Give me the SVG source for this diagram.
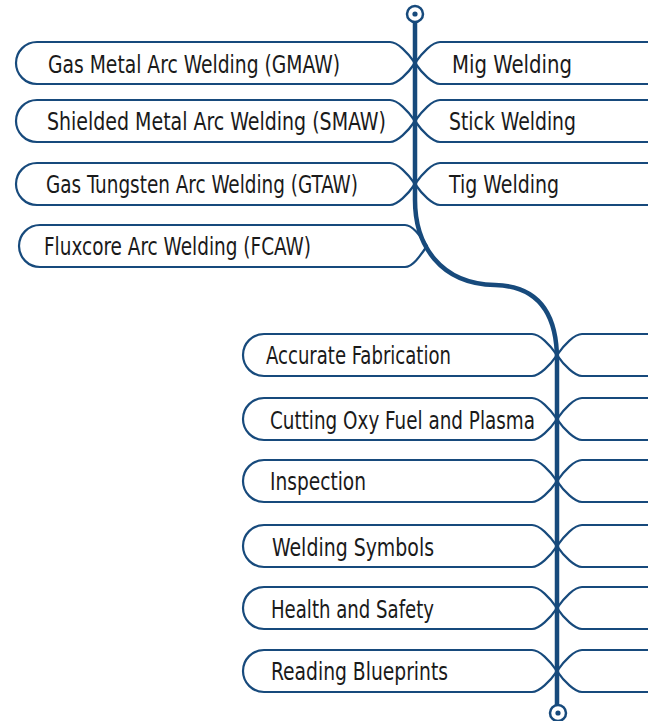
<svg xmlns="http://www.w3.org/2000/svg" width="648" height="721" viewBox="0 0 648 721">
<style>
.n{fill:#fff;stroke:#174a7c;stroke-width:2.2;stroke-linejoin:round}
.t{font-family:"Liberation Sans Narrow","DejaVu Sans Condensed","Liberation Sans",sans-serif;font-size:24.5px;fill:#1a1a1a}
.m{fill:none;stroke:#174a7c;stroke-width:4.5}
</style>
<rect width="648" height="721" fill="#fff"/>
<g id="left1"><path class="n" d="M37,42 H390 C397.5,42 407.75,52.5 415,63 C407.75,73.5 397.5,84 390,84 H37 A21,21 0 0 1 37,42 Z"/><text class="t" x="48" y="73" textLength="292" lengthAdjust="spacingAndGlyphs">Gas Metal Arc Welding (GMAW)</text></g>
<g id="right1"><path class="n" d="M650,42 H440 C432.5,42 422.25,52.5 415,63 C422.25,73.5 432.5,84 440,84 H650"/><text class="t" x="452" y="73" textLength="120" lengthAdjust="spacingAndGlyphs">Mig Welding</text></g>
<g id="left2"><path class="n" d="M37,100 H390 C397.5,100 407.75,110.5 415,121 C407.75,131.5 397.5,142 390,142 H37 A21,21 0 0 1 37,100 Z"/><text class="t" x="47" y="130" textLength="339" lengthAdjust="spacingAndGlyphs">Shielded Metal Arc Welding (SMAW)</text></g>
<g id="right2"><path class="n" d="M650,100 H440 C432.5,100 422.25,110.5 415,121 C422.25,131.5 432.5,142 440,142 H650"/><text class="t" x="449" y="130" textLength="127" lengthAdjust="spacingAndGlyphs">Stick Welding</text></g>
<g id="left3"><path class="n" d="M37,163 H390 C397.5,163 407.75,173.5 415,184 C407.75,194.5 397.5,205 390,205 H37 A21,21 0 0 1 37,163 Z"/><text class="t" x="46" y="193" textLength="312" lengthAdjust="spacingAndGlyphs">Gas Tungsten Arc Welding (GTAW)</text></g>
<g id="right3"><path class="n" d="M650,163 H440 C432.5,163 422.25,173.5 415,184 C422.25,194.5 432.5,205 440,205 H650"/><text class="t" x="449" y="193" textLength="110" lengthAdjust="spacingAndGlyphs">Tig Welding</text></g>
<g id="left4"><path class="n" d="M40,225 H405 C412.5,225 419.75,235.5 427,246 C419.75,256.5 412.5,267 405,267 H40 A21,21 0 0 1 40,225 Z"/><text class="t" x="44" y="255" textLength="267" lengthAdjust="spacingAndGlyphs">Fluxcore Arc Welding (FCAW)</text></g>

<g id="left5"><path class="n" d="M264,334 H532 C539.5,334 549.75,344.5 557,355 C549.75,365.5 539.5,376 532,376 H264 A21,21 0 0 1 264,334 Z"/><text class="t" x="266" y="364" textLength="185" lengthAdjust="spacingAndGlyphs">Accurate Fabrication</text></g>
<g id="right5"><path class="n" d="M650,334 H582 C574.5,334 564.25,344.5 557,355 C564.25,365.5 574.5,376 582,376 H650"/></g>
<g id="left6"><path class="n" d="M264,398 H532 C539.5,398 549.75,408.5 557,419 C549.75,429.5 539.5,440 532,440 H264 A21,21 0 0 1 264,398 Z"/><text class="t" x="270" y="429" textLength="265" lengthAdjust="spacingAndGlyphs">Cutting Oxy Fuel and Plasma</text></g>
<g id="right6"><path class="n" d="M650,398 H582 C574.5,398 564.25,408.5 557,419 C564.25,429.5 574.5,440 582,440 H650"/></g>
<g id="left7"><path class="n" d="M264,460 H532 C539.5,460 549.75,470.5 557,481 C549.75,491.5 539.5,502 532,502 H264 A21,21 0 0 1 264,460 Z"/><text class="t" x="270" y="490" textLength="96" lengthAdjust="spacingAndGlyphs">Inspection</text></g>
<g id="right7"><path class="n" d="M650,460 H582 C574.5,460 564.25,470.5 557,481 C564.25,491.5 574.5,502 582,502 H650"/></g>
<g id="left8"><path class="n" d="M264,525 H532 C539.5,525 549.75,535.5 557,546 C549.75,556.5 539.5,567 532,567 H264 A21,21 0 0 1 264,525 Z"/><text class="t" x="272" y="556" textLength="162" lengthAdjust="spacingAndGlyphs">Welding Symbols</text></g>
<g id="right8"><path class="n" d="M650,525 H582 C574.5,525 564.25,535.5 557,546 C564.25,556.5 574.5,567 582,567 H650"/></g>
<g id="left9"><path class="n" d="M264,587 H532 C539.5,587 549.75,597.5 557,608 C549.75,618.5 539.5,629 532,629 H264 A21,21 0 0 1 264,587 Z"/><text class="t" x="271" y="618" textLength="163" lengthAdjust="spacingAndGlyphs">Health and Safety</text></g>
<g id="right9"><path class="n" d="M650,587 H582 C574.5,587 564.25,597.5 557,608 C564.25,618.5 574.5,629 582,629 H650"/></g>
<g id="left10"><path class="n" d="M264,650 H532 C539.5,650 549.75,660.5 557,671 C549.75,681.5 539.5,692 532,692 H264 A21,21 0 0 1 264,650 Z"/><text class="t" x="271" y="680" textLength="177" lengthAdjust="spacingAndGlyphs">Reading Blueprints</text></g>
<g id="right10"><path class="n" d="M650,650 H582 C574.5,650 564.25,660.5 557,671 C564.25,681.5 574.5,692 582,692 H650"/></g>

<g id="connectors">
<path class="m" d="M415,22 V200 C415,245 440,284 495,285 C535,286 557,310 557,360 V705"/>
<circle cx="415" cy="14" r="8" fill="#fff" stroke="#174a7c" stroke-width="2.5"/>
<circle cx="415" cy="14" r="2.6" fill="#174a7c"/>
<circle cx="558" cy="713" r="8" fill="#fff" stroke="#174a7c" stroke-width="2.5"/>
<circle cx="558" cy="713" r="2.6" fill="#174a7c"/>
</g>
</svg>
